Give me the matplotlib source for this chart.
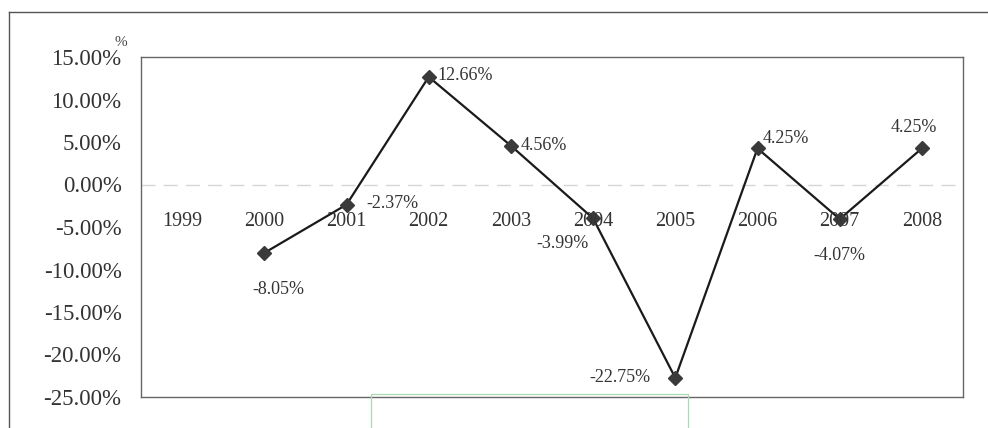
import matplotlib.pyplot as plt
from matplotlib.lines import Line2D
from matplotlib.patches import Rectangle

plt.rcParams['font.family'] = ['Liberation Serif', 'DejaVu Serif']

# yearly growth rate (%); 1999 has no value
years = ['1999', '2000', '2001', '2002', '2003', '2004', '2005', '2006', '2007', '2008']
rates = [None, -8.05, -2.37, 12.66, 4.56, -3.99, -22.75, 4.25, -4.07, 4.25]
y_ticks = [15, 10, 5, 0, -5, -10, -15, -20, -25]

# label offsets (points) relative to each marker
label_offsets = {
    1: (10, -26, 'center'),
    2: (14, 1, 'left'),
    3: (6, 1, 'left'),
    4: (7, 0, 'left'),
    5: (-22, -18, 'center'),
    6: (-18, 0, 'right'),
    7: (4, 7, 'left'),
    8: (0, -26, 'center'),
    9: (-6, 15, 'center'),
}

W, H = 988, 428
fig = plt.figure(figsize=(W / 100, H / 100), dpi=100)
fig.patch.set_facecolor('white')

# outer chart frame (open on the right and bottom)
fig.add_artist(Line2D([9 / W, 9 / W], [0, 1 - 12 / H], color='#555555', lw=1.0))
fig.add_artist(Line2D([9 / W, 1], [1 - 12 / H, 1 - 12 / H], color='#555555', lw=1.0))
# thin green box at the bottom
fig.add_artist(Rectangle((371 / W, -0.01), (688 - 371) / W, 0.01 + (H - 394) / H,
                         fill=False, edgecolor='#a8dbb0', lw=0.9))

left, right, top, bottom = 141, 963, 57, 397
ax = fig.add_axes([left / W, 1 - bottom / H, (right - left) / W, (bottom - top) / H])

xs = list(range(len(years)))
px = [x for x, r in zip(xs, rates) if r is not None]
py = [r for r in rates if r is not None]

ax.axhline(0, color='#d6d6d6', lw=1.0, ls=(0, (10, 6)), zorder=1)
ax.plot(px, py, color='#1a1a1a', lw=1.6, marker='D', markersize=7.5,
        markerfacecolor='#3a3a3a', markeredgecolor='#3a3a3a', zorder=3)

ax.set_xlim(-0.5, len(years) - 0.5)
ax.set_ylim(-25, 15)
ax.set_yticks(y_ticks)
ax.set_yticklabels([f'{v:.2f}%' for v in y_ticks], fontsize=16.5, color='#333333')
ax.tick_params(axis='y', length=0, pad=14)
ax.set_xticks([])

for spine in ax.spines.values():
    spine.set_color('#666666')
    spine.set_linewidth(1.0)

# category labels sit below the zero line
for x, yr in zip(xs, years):
    ax.annotate(yr, (x, 0), xytext=(0, -27), textcoords='offset points',
                ha='center', va='center', fontsize=14.5, color='#333333')

for x, r in zip(xs, rates):
    if r is None:
        continue
    dx, dy, ha = label_offsets[x]
    ax.annotate(f'{r:.2f}%', (x, r), xytext=(dx, dy), textcoords='offset points',
                ha=ha, va='center', fontsize=13, color='#333333')

# small unit mark above the y axis
fig.text(121 / W, 1 - 43 / H, '%', fontsize=11, color='#444444', ha='center', va='center')

fig.savefig('out.png', dpi=100)
